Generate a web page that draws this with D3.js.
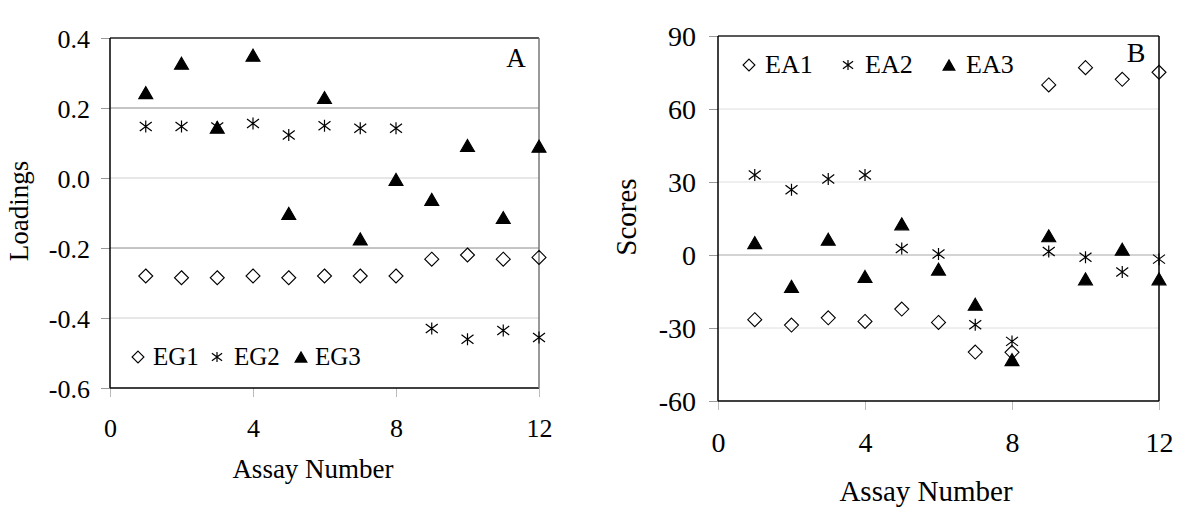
<!DOCTYPE html>
<html>
<head>
<meta charset="utf-8">
<script src="https://cdn.jsdelivr.net/npm/d3@7"></script>
<style>
  body { margin: 0; background: #fff; }
  svg text { font-family: "Liberation Serif", "Times New Roman", serif; fill: #000; }
</style>
</head>
<body>
<div id="chart"></div>
<script>
// assay numbers on the x axis
const assays = [1, 2, 3, 4, 5, 6, 7, 8, 9, 10, 11, 12];

// panel A - loadings
const eg1 = [-0.28, -0.285, -0.285, -0.28, -0.285, -0.28, -0.28, -0.28, -0.232, -0.22, -0.232, -0.227];
const eg2 = [0.147, 0.147, 0.146, 0.156, 0.123, 0.149, 0.142, 0.142, -0.43, -0.461, -0.436, -0.456];
const eg3 = [0.244, 0.328, 0.145, 0.351, -0.101, 0.23, -0.174, -0.004, -0.061, 0.093, -0.113, 0.091];
const loadingTicks = [-0.6, -0.4, -0.2, 0.0, 0.2, 0.4];

// panel B - scores
const ea1 = [-26.6, -28.8, -25.8, -27.3, -22.2, -27.7, -39.9, -40.0, 69.9, 77.0, 72.2, 75.1];
const ea2 = [32.9, 26.8, 31.2, 32.9, 2.7, 0.4, -28.7, -35.5, 1.4, -0.9, -7.0, -1.7];
const ea3 = [5.1, -12.9, 6.5, -8.8, 12.8, -5.8, -20.2, -43.0, 7.9, -9.8, 2.4, -9.8];
const scoreTicks = [-60, -30, 0, 30, 60, 90];

const assayTicks = [0, 4, 8, 12];

const width = 1200;
const height = 524;
const serif = '"Liberation Serif", "Times New Roman", serif';

const svg = d3.select("#chart").append("svg")
    .attr("width", width)
    .attr("height", height)
    .style("display", "block");

svg.append("rect").attr("width", width).attr("height", height).attr("fill", "#fff");

// marker shapes (Excel style)
const markers = {
    diamond: s => `M0,${-7 * s}L${7 * s},0L0,${7 * s}L${-7 * s},0Z`,
    star: s => `M0,${-6 * s}L0,${6 * s}M${-6 * s},${-4.5 * s}L${6 * s},${4.5 * s}M${-6 * s},${4.5 * s}L${6 * s},${-4.5 * s}`,
    triangle: s => `M0,${-6 * s}L${7 * s},${6 * s}L${-7 * s},${6 * s}Z`
};

function drawMarker(g, type, x, y, s) {
    g.append("path")
        .attr("d", markers[type](s))
        .attr("transform", `translate(${x},${y})`)
        .attr("fill", type === "triangle" ? "#000" : "none")
        .attr("stroke", "#000")
        .attr("stroke-width", type === "star" ? 1.2 : 1.1);
}

function drawPanel(p) {
    const x = d3.scaleLinear().domain([0, 12]).range([p.left, p.right]);
    const y = d3.scaleLinear().domain(p.yDomain).range([p.bottom, p.top]);
    const g = svg.append("g");

    // horizontal gridlines
    g.selectAll(".grid")
        .data(p.yTicks.filter(d => d !== p.yDomain[0] && d !== p.yDomain[1]))
        .enter().append("line")
        .attr("x1", p.left).attr("x2", p.right)
        .attr("y1", d => y(d)).attr("y2", d => y(d))
        .attr("stroke", p.gridColor)
        .attr("stroke-width", 1);

    // y axis
    const yAxis = g.append("g")
        .attr("transform", `translate(${p.left},0)`)
        .call(d3.axisLeft(y).tickValues(p.yTicks).tickSize(9).tickPadding(p.yPad).tickFormat(p.yFormat))
        .attr("font-family", null)
        .attr("font-size", null);
    yAxis.select(".domain").remove();
    yAxis.selectAll(".tick line").attr("stroke", "#999");
    yAxis.selectAll(".tick text")
        .style("font-family", serif)
        .style("font-size", p.tickFont + "px")
        .attr("dy", "0.35em");

    // x axis
    const xAxis = g.append("g")
        .attr("transform", `translate(0,${p.bottom})`)
        .call(d3.axisBottom(x).tickValues(assayTicks).tickSize(9).tickFormat(d3.format("d")))
        .attr("font-family", null)
        .attr("font-size", null);
    xAxis.select(".domain").remove();
    xAxis.selectAll(".tick line").attr("stroke", "#bbb");
    xAxis.selectAll(".tick text")
        .style("font-family", serif)
        .style("font-size", p.tickFont + "px")
        .attr("y", p.xLabelOffset)
        .attr("dy", null);

    // plot frame
    g.append("line").attr("x1", p.left).attr("x2", p.right).attr("y1", p.top).attr("y2", p.top)
        .attr("stroke", "#222").attr("stroke-width", 1.3);
    g.append("line").attr("x1", p.left).attr("x2", p.right).attr("y1", p.bottom).attr("y2", p.bottom)
        .attr("stroke", "#000").attr("stroke-width", 1.5);
    g.append("line").attr("x1", p.left).attr("x2", p.left).attr("y1", p.top).attr("y2", p.bottom)
        .attr("stroke", "#000").attr("stroke-width", 1.5);
    g.append("line").attr("x1", p.right).attr("x2", p.right).attr("y1", p.top).attr("y2", p.bottom)
        .attr("stroke", p.rightColor).attr("stroke-width", 1.5);

    // points
    p.series.forEach(s => {
        s.values.forEach((v, i) => drawMarker(g, s.marker, x(assays[i]), y(v), 1));
    });

    // legend
    p.series.forEach((s, i) => {
        drawMarker(g, s.marker, p.legend.markers[i], p.legend.y, 0.85);
        g.append("text")
            .attr("x", p.legend.texts[i])
            .attr("y", p.legend.baseline)
            .style("font-size", p.legendFont + "px")
            .text(s.name);
    });

    // panel letter
    g.append("text")
        .attr("x", p.letter.x).attr("y", p.letter.y)
        .attr("text-anchor", "middle")
        .style("font-size", p.letter.size + "px")
        .text(p.letter.text);

    // axis titles
    g.append("text")
        .attr("transform", `translate(${p.yTitle.x},${p.yTitle.y}) rotate(-90)`)
        .attr("text-anchor", "middle")
        .style("font-size", p.titleFont + "px")
        .text(p.yTitle.text);

    g.append("text")
        .attr("x", p.xTitle.x).attr("y", p.xTitle.y)
        .attr("text-anchor", "middle")
        .style("font-size", p.titleFont + "px")
        .text("Assay Number");
}

drawPanel({
    left: 110, right: 539, top: 38, bottom: 388,
    yDomain: [-0.6, 0.4],
    yTicks: loadingTicks,
    yFormat: d => d.toFixed(1),
    yPad: 11,
    gridColor: d => (d === 0.2 || d === -0.2) ? "#8a8a8a" : "#cfcfcf",
    rightColor: "#777",
    tickFont: 26,
    legendFont: 25,
    titleFont: 27,
    xLabelOffset: 49,
    series: [
        { name: "EG1", values: eg1, marker: "diamond" },
        { name: "EG2", values: eg2, marker: "star" },
        { name: "EG3", values: eg3, marker: "triangle" }
    ],
    legend: { y: 357, baseline: 365, markers: [138, 217, 301], texts: [153, 234, 315] },
    letter: { text: "A", x: 516, y: 67, size: 27 },
    yTitle: { text: "Loadings", x: 28, y: 211 },
    xTitle: { x: 313, y: 478 }
});

drawPanel({
    left: 718, right: 1159, top: 36, bottom: 401,
    yDomain: [-60, 90],
    yTicks: scoreTicks,
    yFormat: d => String(d),
    yPad: 13,
    gridColor: d => d === 0 ? "#a8a8a8" : "#dedede",
    rightColor: "#000",
    tickFont: 28,
    legendFont: 26,
    titleFont: 29,
    xLabelOffset: 51,
    series: [
        { name: "EA1", values: ea1, marker: "diamond" },
        { name: "EA2", values: ea2, marker: "star" },
        { name: "EA3", values: ea3, marker: "triangle" }
    ],
    legend: { y: 65, baseline: 73, markers: [749, 848, 949], texts: [765, 865, 966] },
    letter: { text: "B", x: 1136, y: 62, size: 28 },
    yTitle: { text: "Scores", x: 636, y: 217 },
    xTitle: { x: 926, y: 501 }
});
</script>
</body>
</html>
